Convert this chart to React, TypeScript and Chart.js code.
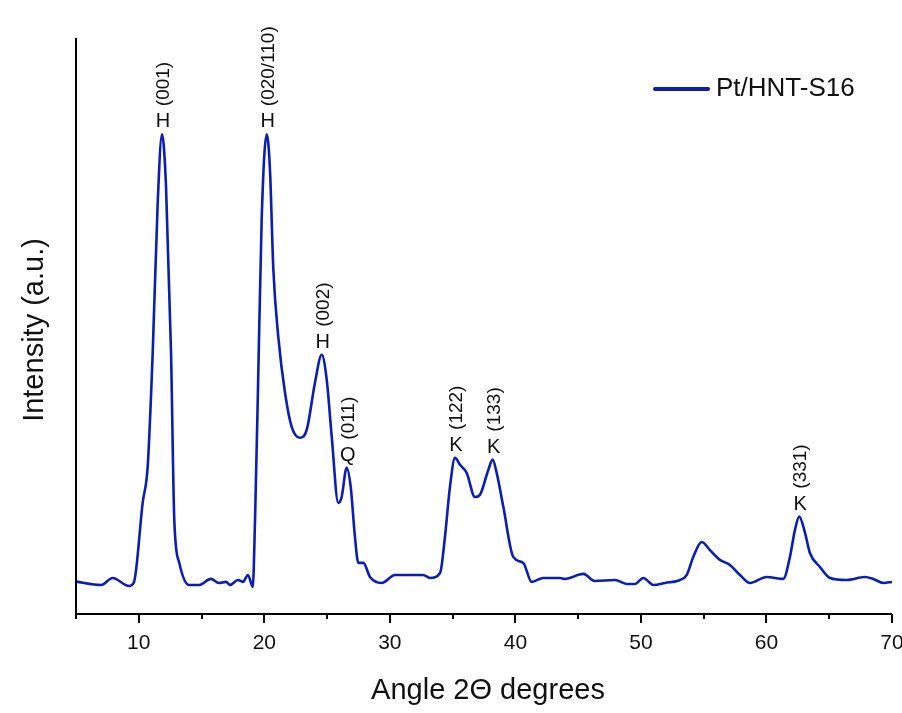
import React, { useEffect, useRef } from "react";
import { Chart, registerables } from "chart.js";

Chart.register(...registerables);

const angles = [
  5.0, 6.99, 7.92, 9.22, 9.62, 10.31, 10.71, 11.11, 11.51, 11.85, 12.17, 12.57, 12.83, 13.23, 14.02, 14.8,
  15.75, 16.39, 16.95, 17.27, 17.9, 18.3, 18.7, 19.08, 19.26, 19.5, 19.79, 20.19, 20.45, 20.72, 21.11, 21.65,
  22.18, 22.84, 23.38, 24.04, 24.57, 24.97, 25.37, 25.89, 26.16, 26.56, 26.88, 27.22, 27.49, 27.89, 28.42,
  29.35, 30.41, 31.61, 32.64, 33.2, 34.0, 34.39, 34.79, 35.19, 35.59, 36.12, 36.78, 37.18, 37.84, 38.19,
  38.51, 39.04, 39.83, 40.63, 41.3, 42.22, 43.55, 43.95, 45.41, 46.34, 47.93, 48.87, 49.53, 50.19, 50.99,
  51.92, 53.11, 53.65, 54.17, 54.84, 55.5, 56.3, 57.09, 57.89, 58.69, 60.02, 61.34, 61.87, 62.27, 62.61,
  63.07, 63.46, 64.26, 65.06, 66.39, 67.85, 68.51, 69.31, 70.0,
];
const intensity = [
  5.62, 5.04, 6.26, 4.87, 5.57, 19.3, 25.6, 45.4, 71.5, 83.3, 74.3, 45.4, 16.3, 8.87, 5.04, 5.04,
  6.09, 5.39, 5.57, 5.04, 5.91, 5.57, 6.78, 4.7, 16.3, 39.5, 68.5, 83.3, 77.2, 59.8, 48.2, 38.4,
  32.5, 30.6, 32.0, 40.2, 45.0, 40.7, 30.8, 19.3, 20.3, 25.4, 22.1, 13.4, 8.87, 8.87, 6.43,
  5.39, 6.78, 6.78, 6.78, 6.26, 7.13, 13.4, 22.1, 27.1, 25.9, 24.5, 20.3, 20.7, 25.0, 26.8,
  24.5, 18.6, 9.91, 8.87, 5.57, 6.26, 6.26, 6.09, 6.96, 5.74, 5.91, 5.22, 5.22, 6.26, 5.04,
  5.39, 5.91, 6.78, 9.91, 12.5, 11.1, 9.39, 8.52, 6.78, 5.39, 6.43, 6.09, 9.91, 14.6, 16.9,
  14.1, 10.6, 8.17, 6.26, 5.91, 6.43, 6.09, 5.39, 5.57,
];

const peakAngles = [11.85, 20.19, 24.57, 26.56, 35.19, 38.19, 62.61];
const peakPhases = ["H", "H", "H", "Q", "K", "K", "K"];
const peakPlanes = ["(001)", "(020/110)", "(002)", "(011)", "(122)", "(133)", "(331)"];

const xTickLabels = ["10", "20", "30", "40", "50", "60", "70"];
const seriesName = "Pt/HNT-S16";
const xTitle = "Angle 2\u0398 degrees";
const yTitle = "Intensity (a.u.)";
const xMin = 5;
const xMax = 70;
const xMinorStep = 5;
const xMajorStep = 10;

const FONT = "'Liberation Sans', Arial, sans-serif";
const LINE_COLOR = "#0b1eb0";

export default function App() {
  const ref = useRef<HTMLCanvasElement | null>(null);

  useEffect(() => {
    const canvas = ref.current;
    if (!canvas) return;

    const decor = {
      id: "decor",
      afterDraw(chart: any) {
        const ctx = chart.ctx as CanvasRenderingContext2D;
        const xs = chart.scales.x;
        const ys = chart.scales.y;
        const area = chart.chartArea;
        ctx.save();
        // axis lines
        ctx.strokeStyle = "#000";
        ctx.lineWidth = 2;
        ctx.beginPath();
        ctx.moveTo(area.left, area.top);
        ctx.lineTo(area.left, area.bottom);
        ctx.lineTo(area.right, area.bottom);
        ctx.stroke();
        // ticks
        for (let v = xMin; v <= xMax + 1e-9; v += xMinorStep) {
          const px = Math.round(xs.getPixelForValue(v));
          const len = v % xMajorStep === 0 ? 9 : 5;
          ctx.beginPath();
          ctx.moveTo(px, area.bottom);
          ctx.lineTo(px, area.bottom + len);
          ctx.stroke();
        }
        // tick labels
        ctx.fillStyle = "#111";
        ctx.font = `21px ${FONT}`;
        ctx.textAlign = "center";
        ctx.textBaseline = "alphabetic";
        xTickLabels.forEach((t) => {
          ctx.fillText(t, xs.getPixelForValue(Number(t)), area.bottom + 35);
        });
        // axis titles
        ctx.font = `29px ${FONT}`;
        ctx.fillText(xTitle, (area.left + area.right) / 2 + 4, 699);
        ctx.save();
        ctx.translate(43, 330);
        ctx.rotate(-Math.PI / 2);
        ctx.fillText(yTitle, 0, 0);
        ctx.restore();

        // peak annotations
        for (let i = 0; i < peakAngles.length; i++) {
          let best = -Infinity;
          for (let j = 0; j < angles.length; j++) {
            if (Math.abs(angles[j] - peakAngles[i]) < 0.4 && intensity[j] > best) best = intensity[j];
          }
          const px = xs.getPixelForValue(peakAngles[i]);
          const py = ys.getPixelForValue(best);
          ctx.font = `20px ${FONT}`;
          ctx.textAlign = "center";
          ctx.textBaseline = "alphabetic";
          const base = py - 7;
          ctx.fillText(peakPhases[i], px + 1, base);
          ctx.save();
          ctx.font = `19px ${FONT}`;
          ctx.translate(px + 2, base - 21);
          ctx.rotate(-Math.PI / 2);
          ctx.textAlign = "left";
          ctx.textBaseline = "middle";
          ctx.fillText(peakPlanes[i], 0, 0);
          ctx.restore();
        }

        // legend
        ctx.strokeStyle = LINE_COLOR;
        ctx.lineWidth = 4;
        ctx.lineCap = "round";
        ctx.beginPath();
        ctx.moveTo(655, 89);
        ctx.lineTo(708, 89);
        ctx.stroke();
        ctx.fillStyle = "#111";
        ctx.font = `26px ${FONT}`;
        ctx.textAlign = "left";
        ctx.textBaseline = "middle";
        ctx.fillText(seriesName, 716, 89);
        ctx.restore();
      },
    };

    const chart = new Chart(canvas, {
      type: "line",
      data: {
        datasets: [
          {
            label: seriesName,
            data: angles.map((a, i) => ({ x: a, y: intensity[i] })),
            borderColor: LINE_COLOR,
            borderWidth: 2.6,
            pointRadius: 0,
            cubicInterpolationMode: "monotone",
            fill: false,
          },
        ],
      },
      options: {
        responsive: false,
        animation: false,
        layout: { padding: { left: 76, top: 38, right: 10, bottom: 99 } },
        plugins: { legend: { display: false }, tooltip: { enabled: false }, title: { display: false } },
        scales: {
          x: {
            type: "linear",
            min: xMin,
            max: xMax,
            grid: { display: false, drawTicks: false },
            border: { display: false },
            ticks: { display: false },
          },
          y: {
            min: 0,
            max: 100,
            grid: { display: false, drawTicks: false },
            border: { display: false },
            ticks: { display: false },
          },
        },
      },
      plugins: [decor],
    } as any);

    return () => chart.destroy();
  }, []);

  return (
    <div style={{ position: "fixed", left: 0, top: 0, width: 902, height: 713, background: "#fff" }}>
      <canvas ref={ref} width={902} height={713} style={{ display: "block" }} />
    </div>
  );
}
